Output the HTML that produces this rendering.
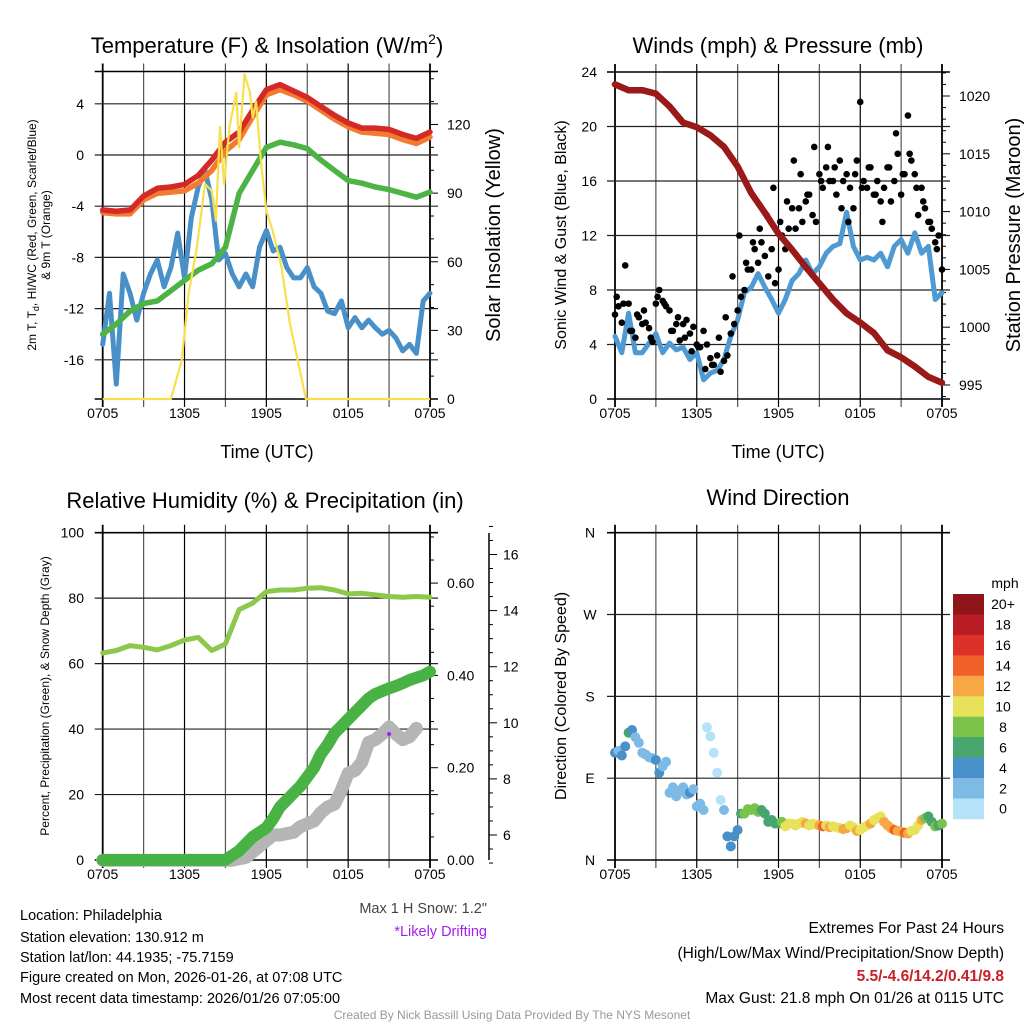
<!DOCTYPE html>
<html><head><meta charset="utf-8"><style>
html,body{margin:0;padding:0;background:#fff}
svg{display:block;font-family:"Liberation Sans",Arial,sans-serif}
</style></head><body>
<svg id="root" width="1024" height="1024" viewBox="0 0 1024 1024" xmlns="http://www.w3.org/2000/svg">
<rect width="1024" height="1024" fill="#fff"/>
<g id="layer"></g>
<text x="267" y="53" font-size="22" text-anchor="middle">Temperature (F) &amp; Insolation (W/m<tspan dy="-9" font-size="14">2</tspan><tspan dy="9">)</tspan></text>
<text x="778" y="53" font-size="22" text-anchor="middle">Winds (mph) &amp; Pressure (mb)</text>
<text x="265" y="508" font-size="22" text-anchor="middle">Relative Humidity (%) &amp; Precipitation (in)</text>
<text x="778" y="505" font-size="22" text-anchor="middle">Wind Direction</text>
<text x="267" y="458" font-size="18" text-anchor="middle">Time (UTC)</text>
<text x="778" y="458" font-size="18" text-anchor="middle">Time (UTC)</text>
<text transform="translate(36,235) rotate(-90)" font-size="12" text-anchor="middle">2m T, T<tspan dy="3" font-size="9">d</tspan><tspan dy="-3">, HI/WC (Red, Green, Scarlet/Blue)</tspan></text>
<text transform="translate(50,235) rotate(-90)" font-size="12" text-anchor="middle">&amp; 9m T (Orange)</text>
<text transform="translate(500,235) rotate(-90)" font-size="20" text-anchor="middle">Solar Insolation (Yellow)</text>
<text transform="translate(566,235) rotate(-90)" font-size="16" text-anchor="middle">Sonic Wind &amp; Gust (Blue, Black)</text>
<text transform="translate(1020,235) rotate(-90)" font-size="20" text-anchor="middle">Station Pressure (Maroon)</text>
<text transform="translate(49,696) rotate(-90)" font-size="12" text-anchor="middle">Percent, Precipitation (Green), &amp; Snow Depth (Gray)</text>
<text transform="translate(566,696) rotate(-90)" font-size="16" text-anchor="middle">Direction (Colored By Speed)</text>
<text x="1005" y="588" font-size="14" text-anchor="middle">mph</text>
<g font-size="14.5">
<text x="20" y="920">Location: Philadelphia</text>
<text x="20" y="942">Station elevation: 130.912 m</text>
<text x="20" y="962">Station lat/lon: 44.1935; -75.7159</text>
<text x="20" y="982">Figure created on Mon, 2026-01-26, at 07:08 UTC</text>
<text x="20" y="1003">Most recent data timestamp: 2026/01/26 07:05:00</text>
</g>
<text x="487" y="913" font-size="14.5" fill="#444" text-anchor="end">Max 1 H Snow: 1.2"</text>
<text x="487" y="936" font-size="14.5" fill="#a020f0" text-anchor="end">*Likely Drifting</text>
<g font-size="15.5" text-anchor="end">
<text x="1004" y="933">Extremes For Past 24 Hours</text>
<text x="1004" y="958">(High/Low/Max Wind/Precipitation/Snow Depth)</text>
<text x="1004" y="981" font-weight="bold" fill="#c8202a">5.5/-4.6/14.2/0.41/9.8</text>
<text x="1004" y="1003">Max Gust: 21.8 mph On 01/26 at 0115 UTC</text>
</g>
<text x="512" y="1019" font-size="12" fill="#999" text-anchor="middle">Created By Nick Bassill Using Data Provided By The NYS Mesonet</text>
</svg>
<script>
const timeTickLabels = ["0705","1305","1905","0105","0705"];
const tempTicks = [4,0,-4,-8,-12,-16];
const solarTicks = [0,30,60,90,120];
const windTicks = [0,4,8,12,16,20,24];
const pressureTicks = [995,1000,1005,1010,1015,1020];
const rhTicks = [0,20,40,60,80,100];
const precipTicks = [0,0.2,0.4,0.6];
const snowTicks = [6,8,10,12,14,16];
const dirTicks = ["N","E","S","W","N"];
const colorbarLabels = ["20+","18","16","14","12","10","8","6","4","2","0"];
const colorbarColors = ["#8e1519","#b91c24","#dc3128","#f0622a","#f7a844","#e7e25a","#7bc24a","#47a56e","#4790c8","#7dbbe6","#b5e2f8"];

const tempRed = [-4.3,-4.4,-4.3,-3.2,-2.6,-2.5,-2.3,-1.6,-0.4,1.0,1.8,3.5,5.1,5.5,5.0,4.5,3.8,3.1,2.5,2.1,2.1,2.0,1.6,1.3,1.8];
const tempOrange = [-4.5,-4.6,-4.6,-3.5,-3.0,-2.9,-2.8,-2.2,-1.2,0.3,1.2,3.0,4.7,5.1,4.7,4.2,3.5,2.8,2.2,1.8,1.7,1.6,1.2,0.9,1.4];
const dewGreen = [-14.0,-13.2,-12.2,-11.6,-11.4,-10.6,-9.8,-9.0,-8.5,-7.2,-3.0,-1.2,0.6,1.0,0.8,0.5,-0.4,-1.2,-2.0,-2.2,-2.5,-2.7,-3.0,-3.3,-2.9];
const windChill = [-14.8,-10.8,-17.9,-9.3,-10.8,-12.9,-10.8,-9.3,-8.2,-10.3,-8.8,-6.1,-9.6,-4.9,-2.5,-1.2,-3.5,-8.2,-7.7,-9.3,-10.3,-9.3,-10.3,-7.2,-5.9,-7.5,-7.2,-8.8,-9.6,-9.6,-8.8,-10.3,-10.8,-12.2,-12.4,-11.4,-13.5,-12.7,-13.5,-12.9,-13.5,-14.0,-13.7,-14.3,-15.3,-14.8,-15.5,-11.4,-10.8];
const solarTimes = [0,5.0,5.8,6.3,6.9,7.5,8.0,8.3,8.6,8.9,9.3,9.8,10.0,10.4,10.8,11.0,11.25,11.6,12.0,12.4,13.1,13.7,14.4,14.9,24];
const solarVals = [0,0,17,46,66,94,91,78,119,94,119,134,110,142,134,123,130,104,82,75,58,34,14,0,0];

const pressure = [1021.0,1020.5,1020.5,1020.2,1019.1,1017.7,1017.3,1016.6,1015.6,1013.9,1011.6,1009.9,1008.1,1006.7,1005.2,1003.8,1002.4,1001.2,1000.4,999.5,998.0,997.4,996.6,995.7,995.2];
const windSpeed = [4.6,3.4,6.3,3.4,3.4,4.1,4.8,3.4,4.1,3.6,3.8,2.9,3.4,1.4,1.9,2.1,2.9,4.6,5.8,7.8,8.2,9.2,8.2,7.3,6.3,7.3,8.7,9.2,10.2,9.2,9.7,10.7,11.2,11.4,13.7,11.2,10.2,10.4,10.2,10.7,9.7,11.2,11.7,10.7,12.2,10.7,11.2,7.3,7.8];
const gustA = [6.2,6.8,5.6,9.8,7.0,5.0,4.5,6.0,5.5,5.6,5.2,4.2,7.0,8.0,7.2,6.8,6.5,5.0,5.5,4.3,5.5,5.8,4.8,5.3,4.0,3.8,5.0,4.0,3.0,2.5,3.2,2.0,2.8,3.2,4.8,5.5,6.5,7.5,8.0,9.5,9.5,11.0,10.0,11.5,10.5,9.0,11.0,8.5,9.5,12.0,11.0,12.5,14.0,12.5,14.0,13.0,14.5,15.0,13.5,13.0,16.5,15.5,17.0,16.0,16.0,15.0,17.5,16.0,16.5,15.5,14.0,17.5,21.8,16.0,15.5,17.0,15.0,16.0,14.5,15.5,17.0,14.5,16.0,18.0,15.0,16.5,20.8,17.5,16.5,13.5,15.5,14.0,13.0,12.5,11.5,12.0,9.5];
const gustB = [7.5,7.0,5.0,6.2,6.5,4.5,7.5,7.0,5.0,6.0,4.5,3.5,3.8,2.2,2.5,4.5,6.0,9.0,12.0,10.0,11.5,12.5,13.5,15.5,13.0,14.5,17.5,16.5,15.0,18.5,16.0,18.5,17.0,14.0,13.0,16.5,15.5,17.0,15.0,13.0,17.0,19.5,16.5,18.0,15.5,14.5,13.0,11.0];

const rhVals = [63.2,64,65.5,65,64.2,65.5,67.2,68,64,66,76.5,78.5,82,82.5,82.5,83,83.2,82.5,81.3,81.5,81,80.5,80.3,80.5,80.3];
const precipVals = [0,0,0,0,0,0,0,0,0,0,0,0,0,0,0,0,0,0,0,0.01,0.02,0.035,0.05,0.06,0.07,0.09,0.115,0.13,0.145,0.16,0.18,0.2,0.23,0.25,0.275,0.29,0.305,0.32,0.335,0.35,0.36,0.366,0.372,0.377,0.383,0.39,0.395,0.4,0.408];
const snowVals = [5.1,5.1,5.1,5.1,5.1,5.1,5.1,5.1,5.1,5.1,5.1,5.1,5.1,5.1,5.1,5.1,5.1,5.1,5.1,5.1,5.15,5.2,5.4,5.6,5.8,6.0,6.0,6.05,6.1,6.3,6.4,6.5,6.8,7.0,7.1,7.6,8.2,8.3,8.6,9.3,9.4,9.6,9.85,9.6,9.4,9.5,9.8];
const driftTime = [21.0];
const driftSnow = [9.6];

const dirVals = [118,120,115,125,140,143,135,129,118,116,113,112,110,96,103,108,74,80,70,76,80,72,74,78,59,62,55,146,136,118,96,66,55,26,15,26,33,51,51,56,55,57,53,55,51,42,44,40,40,42,37,40,40,38,40,42,40,38,40,39,38,37,38,36,37,36,35,34,35,38,36,32,33,36,38,40,44,46,48,42,38,35,33,32,31,30,29,32,33,38,44,46,48,42,37,38,40];
const dirSpeed = [4,3,5,4,6,5,3,3,3,3,2,3,4,5,3,2,3,2,3,2,2,3,4,3,3,2,2,0.5,1,1,0.5,1.5,2,4,4,5,5,7,8,9,8,9,8,7,7,6,7,7,7,9,10,10,10,11,10,11,12,11,10,11,12,15,11,12,10,10,11,13,12,10,11,12,10,10,11,12,11,10,11,12,12,13,14,12,13,15,12,11,10,11,12,8,6,7,8,7,8];

const NS = "http://www.w3.org/2000/svg";
const layer = document.getElementById("layer");
function mk(tag, attrs, parent) {
  const el = document.createElementNS(NS, tag);
  for (const k in attrs) el.setAttribute(k, attrs[k]);
  (parent || layer).appendChild(el);
  return el;
}
function txt(x, y, s, size, anchor, parent) {
  const el = mk("text", {x: x, y: y, "font-size": size, "text-anchor": anchor}, parent);
  el.textContent = s;
  return el;
}
function linScale(d0, d1, r0, r1) { return v => r0 + (v - d0) / (d1 - d0) * (r1 - r0); }
function pathFrom(xsArr, ysArr) { return xsArr.map((x, i) => (i ? "L" : "M") + x.toFixed(1) + "," + ysArr[i].toFixed(1)).join(""); }

function frame(name, x0, x1, y0, y1, hLines) {
  const g = mk("g", {});
  
  
  const tx = linScale(0, 24, x0, x1);
  for (let h = 0; h <= 24; h += 3) {
    const l = mk("line", {x1: tx(h), x2: tx(h), y1: y0 - 8, y2: y1 + 8, stroke: (h % 6 === 0) ? "#000" : "#555", "stroke-width": (h === 0 || h === 24) ? 1.8 : 1.2}, g);
    
    
  }
  hLines.forEach(y => {
    const l = mk("line", {x1: x0 - 8, x2: x1 + 8, y1: y, y2: y, stroke: "#222", "stroke-width": 1.2}, g);
    
    
  });
  [y0, y1].forEach(y => {
    const l = mk("line", {x1: x0 - 8, x2: x1 + 8, y1: y, y2: y, stroke: "#000", "stroke-width": 1.6}, g);
    
    
  });
  const lg = mk("g", {"font-size": 14}, g);
  
  
  timeTickLabels.forEach((s, i) => {
    const t = txt(tx(i * 6), y1 + 19, s, 14, "middle", lg);
    
    
  });
  return tx;
}

(function () {
  const X0 = 102.7, X1 = 430, Y0 = 71.5, Y1 = 399;
  const ty = linScale(0, 4, 155, 103.8);
  const sy = linScale(0, 120, 399, 124.5);
  const tx = frame("temperature", X0, X1, Y0, Y1, tempTicks.map(ty));
  const g = mk("g", {});
  
  
  tempTicks.forEach(v => {
    const t = txt(84, ty(v) + 5, String(v), 14, "end", g);
    
    
  });
  for (let v = 0; v <= 140; v += 10) {
    const major = v % 30 === 0;
    const l = mk("line", {x1: X1, x2: X1 + (major ? 8 : 4), y1: sy(v), y2: sy(v), stroke: "#000", "stroke-width": 1}, g);
    
    
  }
  solarTicks.forEach(v => {
    const t = txt(447, sy(v) + 5, String(v), 14, "start", g);
    
    
  });
  const hrs = tempRed.map((_, i) => tx(i));
  const half = windChill.map((_, i) => tx(i * 0.5));
  const wc = mk("path", {d: pathFrom(half, windChill.map(ty)), fill: "none", stroke: "#4a90c8", "stroke-width": 5, "stroke-linejoin": "round", "stroke-linecap": "round"});
  
  
  const gr = mk("path", {d: pathFrom(hrs, dewGreen.map(ty)), fill: "none", stroke: "#4bb445", "stroke-width": 5.5, "stroke-linejoin": "round", "stroke-linecap": "round"});
  
  
  const or = mk("path", {d: pathFrom(hrs, tempOrange.map(ty)), fill: "none", stroke: "#f47a30", "stroke-width": 5.5, "stroke-linejoin": "round", "stroke-linecap": "round"});
  
  
  const rd = mk("path", {d: pathFrom(hrs, tempRed.map(ty)), fill: "none", stroke: "#d42a27", "stroke-width": 5.5, "stroke-linejoin": "round", "stroke-linecap": "round"});
  
  
  const so = mk("path", {d: pathFrom(solarTimes.map(tx), solarVals.map(sy)), fill: "none", stroke: "#f7e04a", "stroke-width": 2.2, "stroke-linejoin": "round"});
  
  
})();

(function () {
  const X0 = 615, X1 = 942, Y0 = 72, Y1 = 399;
  const wy = linScale(0, 24, 399, 72);
  const py = linScale(995, 1020, 385, 96);
  const tx = frame("winds", X0, X1, Y0, Y1, windTicks.slice(1, 6).map(wy));
  const g = mk("g", {});
  
  
  windTicks.forEach(v => {
    const t = txt(597, wy(v) + 5, String(v), 14, "end", g);
    
    
  });
  for (let p = 994; p <= 1022; p++) {
    const major = p % 5 === 0;
    const l = mk("line", {x1: X1, x2: X1 + (major ? 8 : 4), y1: py(p), y2: py(p), stroke: "#000", "stroke-width": 1}, g);
    
    
  }
  pressureTicks.forEach(v => {
    const t = txt(959, py(v) + 5, String(v), 14, "start", g);
    
    
  });
  const ws = mk("path", {d: pathFrom(windSpeed.map((_, i) => tx(i * 0.5)), windSpeed.map(wy)), fill: "none", stroke: "#4f9ad3", "stroke-width": 5, "stroke-linejoin": "round", "stroke-linecap": "round"});
  
  
  gustA.forEach((v, i) => {
    const c = mk("circle", {cx: tx(i * 0.25), cy: wy(v), r: 3.3, fill: "#000"});
    
    
  });
  gustB.forEach((v, i) => {
    const c = mk("circle", {cx: tx(0.125 + i * 0.5), cy: wy(v), r: 3.3, fill: "#000"});
    
    
  });
  const pr = mk("path", {d: pathFrom(pressure.map((_, i) => tx(i)), pressure.map(py)), fill: "none", stroke: "#9a1a1a", "stroke-width": 6.5, "stroke-linejoin": "round", "stroke-linecap": "round"});
  
  
})();

(function () {
  const X0 = 102.7, X1 = 430, Y0 = 532.7, Y1 = 860;
  const ry = linScale(0, 100, 860, 532.7);
  const py = linScale(0, 0.2, 860, 767.7);
  const sy = linScale(6, 8, 835, 778.9);
  const tx = frame("humidity", X0, X1, Y0, Y1, rhTicks.slice(1, 5).map(ry));
  const g = mk("g", {});
  
  
  rhTicks.forEach(v => {
    const t = txt(84, ry(v) + 5, String(v), 14, "end", g);
    
    
  });
  for (let k = 0; k <= 14; k++) {
    const v = k * 0.05;
    const l = mk("line", {x1: X1, x2: X1 + (k % 4 === 0 ? 8 : 4), y1: py(v), y2: py(v), stroke: "#000", "stroke-width": 1}, g);
    
    
  }
  precipTicks.forEach(v => {
    const t = txt(447, py(v) + 5, v.toFixed(2), 14, "start", g);
    
    
  });
  const ax = mk("line", {x1: 489, x2: 489, y1: 533, y2: 860, stroke: "#000", "stroke-width": 1.5}, g);
  
  
  for (let s = 5; s <= 17; s += 0.5) {
    const l = mk("line", {x1: 489, x2: 489 + (s % 2 === 0 ? 8 : 4), y1: sy(s), y2: sy(s), stroke: "#000", "stroke-width": 1}, g);
    
    
  }
  snowTicks.forEach(v => {
    const t = txt(503, sy(v) + 5, String(v), 14, "start", g);
    
    
  });
  const rh = mk("path", {d: pathFrom(rhVals.map((_, i) => tx(i)), rhVals.map(ry)), fill: "none", stroke: "#8cc84b", "stroke-width": 5, "stroke-linejoin": "round", "stroke-linecap": "round"});
  
  
  const sn = mk("path", {d: pathFrom(snowVals.map((_, i) => tx(i * 0.5)), snowVals.map(sy)), fill: "none", stroke: "#b5b5b5", "stroke-width": 13, "stroke-linejoin": "round", "stroke-linecap": "round"});
  
  
  const pc = mk("path", {d: pathFrom(precipVals.map((_, i) => tx(i * 0.5)), precipVals.map(py)), fill: "none", stroke: "#48b344", "stroke-width": 12, "stroke-linejoin": "round", "stroke-linecap": "round"});
  
  
  driftTime.forEach((h, i) => {
    const c = mk("circle", {cx: tx(h), cy: sy(driftSnow[i]), r: 2, fill: "#a020f0"});
    
    
  });
})();

(function () {
  const X0 = 615, X1 = 942, Y0 = 532.7, Y1 = 860;
  const dy = linScale(0, 360, 860, 532.7);
  const tx = frame("direction", X0, X1, Y0, Y1, [90, 180, 270].map(dy));
  const g = mk("g", {});
  
  
  dirTicks.forEach((s, i) => {
    const t = txt(590, dy(i * 90) + 5, s, 14, "middle", g);
    
    
  });
  function colorFor(v) {
    const bin = Math.min(10, Math.max(0, Math.floor(v / 2)));
    return colorbarColors[10 - bin];
  }
  dirVals.forEach((d, i) => {
    const c = mk("circle", {cx: tx(i * 0.25), cy: dy(d), r: 5, fill: colorFor(dirSpeed[i])});
    
    
  });
  const cb = mk("g", {});
  
  
  const top = 594, bh = 20.45;
  colorbarColors.forEach((col, i) => {
    const r = mk("rect", {x: 953, y: top + i * bh, width: 31, height: bh + 0.3, fill: col}, cb);
    
    
    const t = txt(1003, top + i * bh + bh / 2 + 5, colorbarLabels[i], 14, "middle", cb);
    
    
  });
})();
</script>
</body></html>
